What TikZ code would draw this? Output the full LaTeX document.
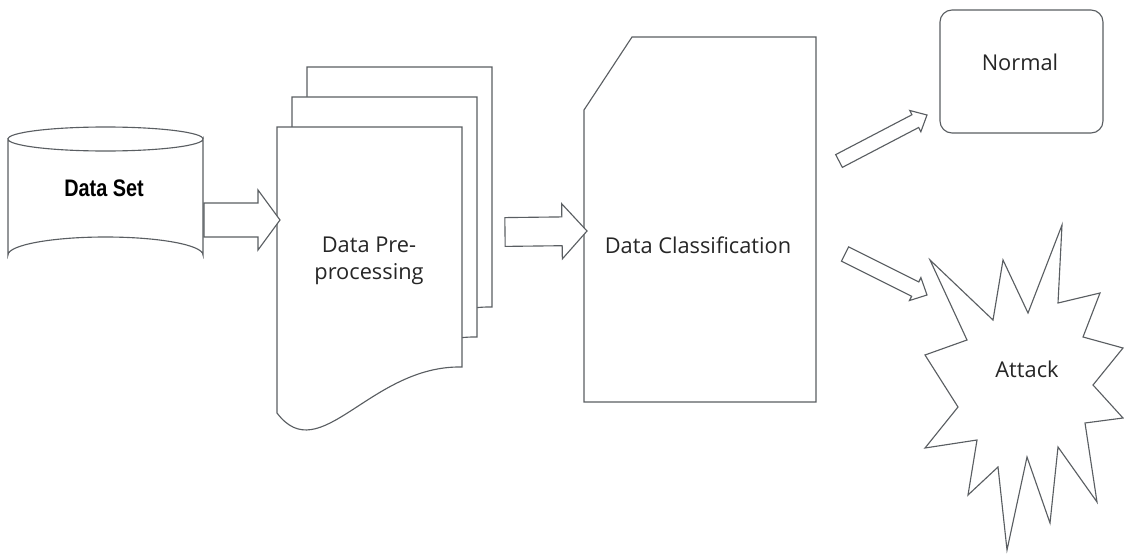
\documentclass[tikz,border=0pt]{standalone}
\usepackage{fontspec}
\setmainfont{Open Sans}
\newfontfamily\narrowfont[FakeStretch=0.83]{Liberation Sans}
\usetikzlibrary{calc}

\definecolor{edge}{HTML}{5A5E62}

\tikzset{
    shape line/.style={draw=edge, line width=0.8pt, fill=white, line join=miter},
    label text/.style={font=\fontsize{15.5}{19}\selectfont, text=black!85, align=center},
    fat arrow/.style n args={3}{to path={
        ($(\tikztotarget)!#3!(\tikztostart)$) coordinate (hb)
        ($(\tikztostart)!#1!90:(\tikztotarget)$)
        -- ($(hb)!#1!-90:(\tikztostart)$)
        -- ($(hb)!#2!-90:(\tikztostart)$)
        -- (\tikztotarget)
        -- ($(hb)!#2!90:(\tikztostart)$)
        -- ($(hb)!#1!90:(\tikztostart)$)
        -- ($(\tikztostart)!#1!-90:(\tikztotarget)$)
        -- cycle}}
}

\begin{document}
\begin{tikzpicture}[x=0.025cm, y=-0.025cm]

        \useasboundingbox (0,0) rectangle (1124,558);

        % Data set cylinder
        \draw[shape line] (8,139) -- (8,255)
            arc[start angle=180, end angle=360, x radius=97.5, y radius=18]
            -- (203,139)
            arc[start angle=0, end angle=180, x radius=97.5, y radius=12] -- cycle;
        \draw[shape line, fill=none] (8,139)
            arc[start angle=180, end angle=360, x radius=97.5, y radius=12];
        \node[font=\narrowfont\bfseries\fontsize{17}{20}\selectfont] (dataset) at (104,188) {Data Set};

        % Stack of pages
        \foreach \dx/\dy in {30/-60,15/-30,0/0}{
            \draw[shape line, shift={(\dx,\dy)}] (277,127) -- (462,127) -- (462,367)
                .. controls (370,365) and (320,470) .. (277,413) -- cycle;
 }
        \node[label text] (prep) at (369,261) {Data Pre-\\processing};

        % Classification card
        \draw[shape line] (632,37) -- (816,37) -- (816,402) -- (584,402) -- (584,110) -- cycle;
        \node[label text] (classif) at (698,245) {Data Classification};

        % Normal
        \draw[shape line, rounded corners=0.3cm] (940,10) rectangle (1103,133);
        \node[label text] (normal) at (1020,62) {Normal};

        % Attack star
        \draw[shape line] (930,260) -- (993,320) -- (1003,260) -- (1028,313) -- (1062,225)
            -- (1058,303) -- (1100,293) -- (1083,337) -- (1123,348) -- (1093,385)
            -- (1123,418) -- (1085,423) -- (1097,502) -- (1058,447) -- (1050,523)
            -- (1027,457) -- (1007,550) -- (998,467) -- (968,495) -- (977,440)
            -- (925,448) -- (958,407) -- (925,355) -- (967,340) -- cycle;
        \node[label text] (attack) at (1027,369) {Attack};

        % Block arrows
        \coordinate (a1s) at (204,220);
        \coordinate (a1e) at (280,220);
        \coordinate (a2s) at (505,232);
        \coordinate (a2e) at (587,231);
        \coordinate (a3s) at (839,161);
        \coordinate (a3e) at (927,115);
        \coordinate (a4s) at (845,254);
        \coordinate (a4e) at (927,295);

        \draw[shape line] (a1s) to[fat arrow={0.425cm}{0.75cm}{0.55cm}] (a1e);
        \draw[shape line] (a2s) to[fat arrow={0.36cm}{0.69cm}{0.625cm}] (a2e);
        \draw[shape line] (a3s) to[fat arrow={0.18cm}{0.3cm}{0.33cm}] (a3e);
        \draw[shape line] (a4s) to[fat arrow={0.2cm}{0.32cm}{0.33cm}] (a4e);

        \end{tikzpicture}
\end{document}
